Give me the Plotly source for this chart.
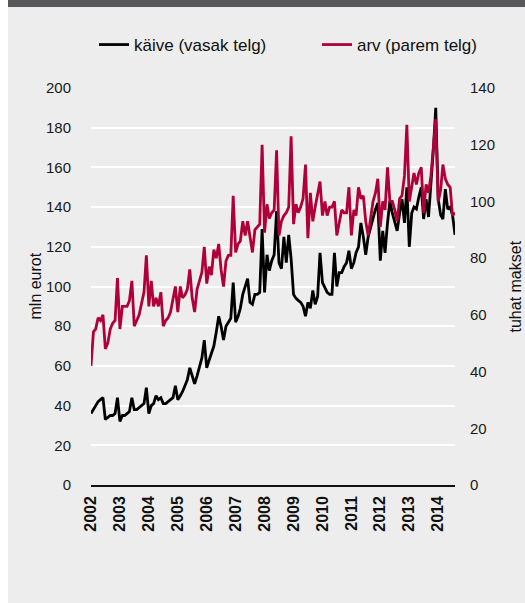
import plotly.graph_objects as go

# ---- data (monthly, Jan 2002 .. Aug 2014) ----
years = list(range(2002, 2015))
months = [f"{y}-{m:02d}-01" for y in years for m in range(1, 13)][:152]

kaive = [  # mln eurot (left axis)
    36, 38, 40, 42, 43, 44, 33, 34, 35, 35, 36, 44,          # 2002
    32, 35, 35, 36, 37, 44, 38, 38, 39, 40, 41, 49,          # 2003
    36, 40, 41, 45, 43, 44, 41, 41, 42, 43, 44, 50,          # 2004
    43, 45, 47, 50, 53, 59, 55, 51, 55, 59, 64, 73,          # 2005
    59, 63, 66, 70, 77, 85, 80, 73, 80, 82, 84, 102,         # 2006
    82, 85, 89, 96, 100, 104, 92, 91, 96, 96, 97, 129,       # 2007
    97, 116, 108, 113, 116, 138, 112, 109, 125, 112, 126, 114,  # 2008
    96, 94, 93, 92, 90, 85, 92, 89, 98, 91, 95, 117,         # 2009
    102, 99, 97, 96, 96, 117, 100, 107, 107, 110, 112, 118,  # 2010
    109, 112, 117, 120, 132, 125, 116, 125, 130, 134, 139, 142,  # 2011
    113, 128, 117, 132, 143, 137, 132, 128, 137, 144, 132, 150,  # 2012
    120, 137, 140, 139, 145, 150, 134, 144, 135, 150, 169, 190,  # 2013
    144, 136, 134, 149, 139, 140, 136, 126,                  # 2014
]

arv = [  # tuhat makset (right axis)
    42, 54, 55, 59, 58, 60, 48, 50, 55, 57, 58, 73,          # 2002
    55, 63, 63, 63, 65, 72, 56, 58, 60, 64, 68, 81,          # 2003
    63, 72, 63, 66, 63, 68, 56, 58, 59, 61, 66, 70,          # 2004
    61, 70, 66, 67, 69, 76, 66, 61, 69, 72, 75, 84,          # 2005
    71, 77, 74, 83, 80, 85, 76, 70, 79, 81, 81, 102,         # 2006
    82, 85, 86, 93, 88, 93, 87, 82, 90, 91, 92, 120,         # 2007
    89, 99, 94, 96, 97, 118, 88, 93, 95, 96, 98, 123,        # 2008
    92, 99, 96, 98, 101, 113, 87, 103, 93, 98, 103, 107,     # 2009
    95, 100, 95, 98, 98, 100, 88, 93, 97, 96, 96, 105,       # 2010
    88, 97, 95, 105, 101, 102, 93, 88, 95, 100, 103, 108,    # 2011
    91, 100, 97, 112, 100, 100, 97, 93, 101, 102, 109, 127,  # 2012
    100, 106, 110, 106, 110, 112, 96, 106, 103, 109, 118, 129,  # 2013
    100, 104, 113, 108, 106, 105, 95, 96,                    # 2014
]

tick_vals = [f"{y}-01-01" for y in years]
tick_text = [str(y) for y in years]
left_ticks = list(range(0, 201, 20))
right_ticks = list(range(0, 141, 20))

FONT = "Liberation Sans, Arial, Helvetica, sans-serif"
RED = "#B0003A"
BG = "#ECEDEC"

W, H = 525, 603
ML, MR, MT, MB = 91, 70, 88, 118
PW, PH = W - ML - MR, H - MT - MB


def px(xp):
    return (xp - ML) / PW


def py(yp):
    return (H - MB - yp) / PH


fig = go.Figure()
fig.add_trace(go.Scatter(x=months, y=kaive, name="käive (vasak telg)", mode="lines",
                         line=dict(color="#000000", width=2.8), yaxis="y", legend="legend"))
fig.add_trace(go.Scatter(x=months, y=arv, name="arv (parem telg)", mode="lines",
                         line=dict(color=RED, width=2.8), yaxis="y2", legend="legend2"))

legend_style = dict(orientation="h", xanchor="left", yanchor="middle", y=py(45),
                    font=dict(size=17, color="#111111"), bgcolor="rgba(0,0,0,0)", itemwidth=30)

fig.update_layout(
    width=W, height=H,
    margin=dict(l=ML, r=MR, t=MT, b=MB, pad=0),
    paper_bgcolor=BG, plot_bgcolor=BG,
    font=dict(family=FONT, size=15, color="#1a1a1a"),
    showlegend=True,
    legend=dict(x=px(94), **legend_style),
    legend2=dict(x=px(317), **legend_style),
    xaxis=dict(type="date", range=[months[0], months[-1]],
               tickvals=tick_vals, ticktext=tick_text, tickangle=-90,
               tickfont=dict(size=16, family=FONT, color="#111111", weight="bold"),
               showgrid=False, zeroline=False, showline=True, linecolor="#111111", linewidth=1.5,
               ticks="", ticklabelstandoff=3),
    yaxis=dict(range=[0, 200], tickvals=left_ticks, showgrid=True, gridcolor="#FFFFFF", gridwidth=1.5,
               zeroline=False, showline=False, ticks="outside", ticklen=16, tickcolor="rgba(0,0,0,0)",
               tickfont=dict(size=15)),
    yaxis2=dict(range=[0, 140], tickvals=right_ticks, overlaying="y", side="right", showgrid=False,
                zeroline=False, showline=False, ticks="outside", ticklen=11, tickcolor="rgba(0,0,0,0)",
                tickfont=dict(size=15)),
    shapes=[
        dict(type="rect", xref="paper", yref="paper", x0=px(0), x1=px(8), y0=py(H), y1=py(0),
             fillcolor="#FFFFFF", line=dict(width=0), layer="below"),
        dict(type="rect", xref="paper", yref="paper", x0=px(8), x1=px(W), y0=py(7), y1=py(0),
             fillcolor="#58585A", line=dict(width=0), layer="below"),
    ],
    annotations=[
        dict(text="mln eurot", xref="paper", yref="paper", x=px(35), y=0.5, textangle=-90,
             showarrow=False, xanchor="center", yanchor="middle", font=dict(size=16, color="#111111")),
        dict(text="tuhat makset", xref="paper", yref="paper", x=px(515), y=0.5, textangle=-90,
             showarrow=False, xanchor="center", yanchor="middle", font=dict(size=16, color="#111111")),
    ],
)

fig.write_html("out.html", config={"displayModeBar": False},
               post_script="document.body.style.margin='0';")
